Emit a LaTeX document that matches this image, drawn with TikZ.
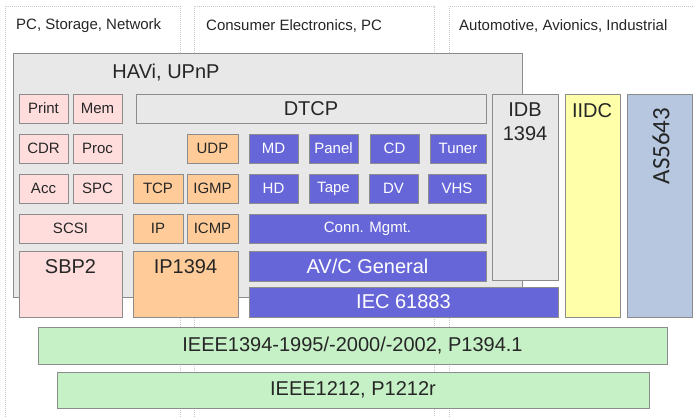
\documentclass[tikz,border=0pt]{standalone}
\usepackage{fontspec}
\setmainfont{Liberation Sans}
\newfontfamily\calibrifont{Carlito}
\usepackage{tikz}
\usetikzlibrary{positioning}

\definecolor{pinkfill}{HTML}{FFDDDD}
\definecolor{orangefill}{HTML}{FFCC99}
\definecolor{bluefill}{HTML}{6666D9}
\definecolor{yellowfill}{HTML}{FFFFAA}
\definecolor{steelfill}{HTML}{B6C7DF}
\definecolor{greenfill}{HTML}{C6F0C6}
\definecolor{grayfill}{HTML}{E8E8E8}
\definecolor{edgegray}{HTML}{8C8C8C}
\definecolor{inkgray}{HTML}{262626}

\tikzset{
  box/.style={draw=edgegray, line width=0.9pt, outer sep=0pt, inner sep=0pt,
    anchor=north west, text=inkgray, font=\fontsize{15}{18}\selectfont},
  wh/.style 2 args={minimum width=#1, minimum height=#2},
  pinkbox/.style={box, fill=pinkfill},
  orangebox/.style={box, fill=orangefill},
  bluebox/.style={box, fill=bluefill, text=white},
  greenbox/.style={box, fill=greenfill},
  graybox/.style={box, fill=grayfill},
  big/.style={font=\fontsize{20}{24}\selectfont},
  colline/.style={draw=black!22, line width=0.8pt, dash pattern=on 1pt off 1pt},
  header/.style={anchor=west, inner sep=0pt, text=inkgray, font=\fontsize{15}{18}\selectfont}
}

\begin{document}
\begin{tikzpicture}[x=1pt,y=-1pt]
\fill[white] (0,0) rectangle (693,417);
\useasboundingbox (0,0) rectangle (693,417);

% application areas
\draw[colline] (5,425) |- (180,6) -- (180,425);
\draw[colline] (194,425) |- (434,6) -- (434,425);
\draw[colline] (449,425) |- (700,6);
\node[header] (pcarea) at (16,26) {PC, Storage, Network};
\node[header] (cearea) at (206,26) {Consumer Electronics, PC};
\node[header] (autoarea) at (459,26) {Automotive, Avionics, Industrial};

% middleware
\node[graybox, wh={509}{244}] (havi) at (13,53) {};
\node[big, text=inkgray] (havitext) at (166,73) {HAVi, UPnP};

% row 1
\node[pinkbox, wh={49}{29}] (print) at (19,94) {Print};
\node[pinkbox, wh={49}{29}] (mem) at (73,94) {Mem};
\node[graybox, big, wh={350}{29}] (dtcp) at (136,94) {DTCP};
\node[graybox, wh={66}{186}] (idb) at (492,94) {};
\node[big, text=inkgray, align=center, anchor=north, inner sep=0pt] (idbtext) at (525,103) {IDB\\1394};
\node[box, fill=yellowfill, wh={55}{223}] (iidc) at (565,94) {};
\node[big, text=inkgray, anchor=north, inner sep=0pt] (iidctext) at (592,103) {IIDC};
\node[box, fill=steelfill, wh={65}{223}] (as) at (627,94) {};
\node[rotate=90, anchor=center, text=inkgray, inner sep=0pt,
  font=\calibrifont\fontsize{25}{30}\selectfont] (astext) at (661,146) {AS5643};

% row 2
\node[pinkbox, wh={49}{29}] (cdr) at (19,134) {CDR};
\node[pinkbox, wh={49}{29}] (proc) at (73,134) {Proc};
\node[orangebox, wh={51}{29}] (udp) at (187,134) {UDP};
\node[bluebox, wh={49}{29}] (md) at (249,134) {MD};
\node[bluebox, wh={49}{29}] (panel) at (309,134) {Panel};
\node[bluebox, wh={49}{29}] (cd) at (370,134) {CD};
\node[bluebox, wh={56}{29}] (tuner) at (430,134) {Tuner};

% row 3
\node[pinkbox, wh={49}{29}] (acc) at (19,174) {Acc};
\node[pinkbox, wh={49}{29}] (spc) at (73,174) {SPC};
\node[orangebox, wh={50}{29}] (tcp) at (133,174) {TCP};
\node[orangebox, wh={51}{29}] (igmp) at (187,174) {IGMP};
\node[bluebox, wh={49}{29}] (hd) at (249,174) {HD};
\node[bluebox, wh={49}{29}] (tape) at (309,174) {Tape};
\node[bluebox, wh={49}{29}] (dv) at (369,174) {DV};
\node[bluebox, wh={58}{29}] (vhs) at (428,174) {VHS};

% row 4
\node[pinkbox, wh={103}{29}] (scsi) at (19,214) {SCSI};
\node[orangebox, wh={50}{29}] (ip) at (133,214) {IP};
\node[orangebox, wh={51}{29}] (icmp) at (187,214) {ICMP};
\node[bluebox, wh={237}{29}] (conn) at (249,214) {Conn. Mgmt.};

% row 5
\node[pinkbox, wh={103}{66}] (sbp) at (19,251) {};
\node[big, text=inkgray] (sbptext) at (70.5,267) {SBP2};
\node[orangebox, wh={105}{66}] (ipfw) at (133,251) {};
\node[big, text=inkgray] (ipfwtext) at (185.5,267) {IP1394};
\node[bluebox, big, wh={237}{30}] (avc) at (249,251) {AV/C General};
\node[bluebox, big, wh={309}{30}] (iec) at (249,287) {IEC 61883};

% base standards
\node[greenbox, big, wh={629}{37}] (ieee) at (38,327) {IEEE1394-1995/-2000/-2002, P1394.1};
\node[greenbox, big, wh={592}{36}] (csr) at (57,372) {IEEE1212, P1212r};
\end{tikzpicture}
\end{document}
